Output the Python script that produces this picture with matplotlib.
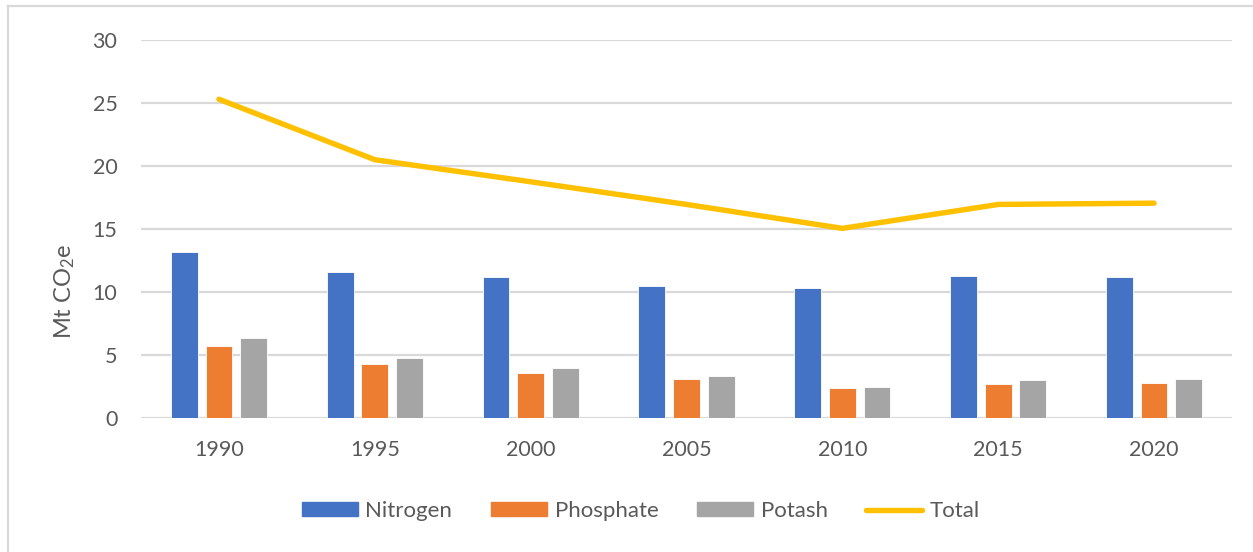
import numpy as np
import matplotlib
matplotlib.use("Agg")
import matplotlib.pyplot as plt
from matplotlib.lines import Line2D

plt.rcParams["font.family"] = ["Lato", "DejaVu Sans"]
plt.rcParams["mathtext.default"] = "regular"

years = ["1990", "1995", "2000", "2005", "2010", "2015", "2020"]
nitrogen = [13.2, 11.55, 11.2, 10.5, 10.3, 11.3, 11.2]
phosphate = [5.7, 4.25, 3.55, 3.1, 2.35, 2.7, 2.8]
potash = [6.35, 4.8, 4.0, 3.35, 2.45, 3.0, 3.1]
total = [25.3, 20.5, 18.75, 16.95, 15.05, 16.95, 17.05]

C_N, C_P, C_K, C_T = "#4472c4", "#ed7d31", "#a5a5a5", "#ffc000"
TXT = "#595959"

W, H = 1253, 552
fig = plt.figure(figsize=(W / 100, H / 100), dpi=100)
ax = fig.add_axes([141 / W, (H - 418) / H, 1091 / W, 378 / H])

x = np.arange(len(years))
bw, step = 0.172, 0.222
ax.bar(x - step, nitrogen, bw, color=C_N, edgecolor="white", lw=0.6, zorder=3)
ax.bar(x, phosphate, bw, color=C_P, edgecolor="white", lw=0.6, zorder=3)
ax.bar(x + step, potash, bw, color=C_K, edgecolor="white", lw=0.6, zorder=3)
ax.plot(x, total, color=C_T, lw=3.9, solid_capstyle="round", zorder=4)

ax.set_xlim(-0.5, len(years) - 0.5)
ax.set_ylim(0, 30)
ax.set_yticks(range(0, 31, 5))
ax.set_xticks(x)
ax.set_xticklabels(years)
ax.grid(axis="y", color="#d9d9d9", lw=1.6, zorder=0)
ax.set_axisbelow(True)
for s in ax.spines.values():
    s.set_visible(False)
ax.tick_params(axis="both", length=0, labelsize=15.5, labelcolor=TXT)
ax.tick_params(axis="y", pad=17)
ax.tick_params(axis="x", pad=16)

fig.text(65 / W, 1 - 291 / H, "Mt CO$_2$e", rotation=90, ha="center", va="center",
         fontsize=17, color=TXT)

handles = [
    plt.Rectangle((0, 0), 1, 1, color=C_N),
    plt.Rectangle((0, 0), 1, 1, color=C_P),
    plt.Rectangle((0, 0), 1, 1, color=C_K),
    Line2D([], [], color=C_T, lw=3.9, solid_capstyle="round"),
]
fig.legend(handles, ["Nitrogen", "Phosphate", "Potash", "Total"], ncol=4,
           loc="center", bbox_to_anchor=(641 / W, 1 - 511 / H), frameon=False,
           fontsize=16, labelcolor=TXT, handlelength=2.5, handleheight=0.6,
           handletextpad=0.35, columnspacing=1.75)

# light frame on top and left, as in the source
fig.add_artist(Line2D([8 / W, 8 / W], [0, 1 - 6 / H], color="#d9d9d9", lw=1.6))
fig.add_artist(Line2D([8 / W, 1], [1 - 6 / H, 1 - 6 / H], color="#d9d9d9", lw=1.6))

fig.savefig("out.png", dpi=100)
